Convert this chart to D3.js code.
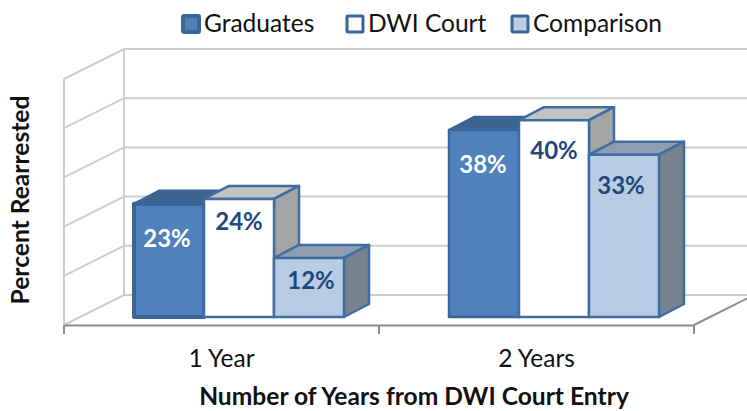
<!DOCTYPE html>
<html>
<head>
<meta charset="utf-8">
<script src="https://cdn.jsdelivr.net/npm/d3@7"></script>
<style>
  html, body { margin: 0; padding: 0; background: #fff; }
  svg { display: block; font-family: Lato, "Open Sans", sans-serif; }
</style>
</head>
<body>
<div id="chart"></div>
<script>
var categories = ["1 Year", "2 Years"];
var seriesNames = ["Graduates", "DWI Court", "Comparison"];
var graduates = [23, 38];
var dwiCourt = [24, 40];
var comparison = [12, 33];
var gridTicks = [0, 10, 20, 30, 40, 50];

var seriesValues = [graduates, dwiCourt, comparison];

// front, top and side faces of each series
var faces = [
  { front: "#4f81bd", top: "#3d6592", side: "#3d6592", stroke: "#3b6597" },
  { front: "#ffffff", top: "#c2c2c2", side: "#a5a5a5", stroke: "#3f6da3" },
  { front: "#b8cce4", top: "#8e9eb2", side: "#77838f", stroke: "#3f6da3" }
];

var width = 747, height = 411;
var left = 64, right = 694, floorY = 325;
var depthX = 60, depthY = -30;      // whole floor depth
var barDepthX = 25, barDepthY = -13; // depth of one bar
var barShiftX = 17.5, barShiftY = -8; // bars sit a little way back on the floor

// labels were placed by hand in the original: [dx, dy from bar top]
var labelNudge = [
  [[-2, 35], [0, 23], [2, 23]],
  [[-1, 35], [0, 30], [-3, 31]]
];

var x = d3.scaleBand().domain(categories).range([left, right]);
var x1 = d3.scaleBand().domain(d3.range(3)).range([0, 210]);
var y = d3.scaleLinear().domain([0, 50]).range([floorY, floorY - 246]);

var svg = d3.select("#chart").append("svg")
  .attr("width", width)
  .attr("height", height);

// back and side walls
var grid = svg.append("g")
  .attr("fill", "none")
  .attr("stroke", "#cdcdcd")
  .attr("stroke-width", 2);

gridTicks.forEach(function(t) {
  grid.append("path")
    .attr("d", d3.line()([
      [left, y(t)],
      [left + depthX, y(t) + depthY],
      [right + depthX, y(t) + depthY]
    ]));
});

grid.append("line")
  .attr("x1", left).attr("x2", left)
  .attr("y1", y(50)).attr("y2", y(0));
grid.append("line")
  .attr("x1", left + depthX).attr("x2", left + depthX)
  .attr("y1", y(50) + depthY).attr("y2", y(0) + depthY);

// floor edge on the right
svg.append("line")
  .attr("x1", right).attr("y1", floorY)
  .attr("x2", right + depthX).attr("y2", floorY + depthY)
  .attr("stroke", "#8c8c8c")
  .attr("stroke-width", 2);

// bars, left to right so the next front covers the last side
categories.forEach(function(cat, c) {
  seriesValues.forEach(function(values, s) {
    var v = values[c];
    var x0 = x(cat) + x.bandwidth() / 2 - x1.step() * 1.5 + barShiftX + x1(s);
    var x2 = x0 + x1.bandwidth();
    var yTop = y(v) + barShiftY;
    var yBase = y(0) + barShiftY;
    var f = faces[s];
    // the 1 Year graduates bar has the heavy outline in the original
    var sw = (c === 0 && s === 0) ? 4 : 2.5;
    var g = svg.append("g")
      .attr("stroke", f.stroke)
      .attr("stroke-width", sw)
      .attr("stroke-linejoin", "round");

    g.append("path")
      .attr("fill", f.top)
      .attr("stroke-width", 2.5)
      .attr("d", d3.line()([
        [x0, yTop],
        [x0 + barDepthX, yTop + barDepthY],
        [x2 + barDepthX, yTop + barDepthY],
        [x2, yTop]
      ]) + "Z");
    g.append("path")
      .attr("fill", f.side)
      .attr("stroke-width", 2.5)
      .attr("d", d3.line()([
        [x2, yTop],
        [x2 + barDepthX, yTop + barDepthY],
        [x2 + barDepthX, yBase + barDepthY],
        [x2, yBase]
      ]) + "Z");
    g.append("rect")
      .attr("fill", f.front)
      .attr("x", x0)
      .attr("y", yTop)
      .attr("width", x2 - x0)
      .attr("height", yBase - yTop);
  });
});

// data labels on top of everything
categories.forEach(function(cat, c) {
  seriesValues.forEach(function(values, s) {
    var x0 = x(cat) + x.bandwidth() / 2 - x1.step() * 1.5 + barShiftX + x1(s);
    svg.append("text")
      .attr("x", x0 + x1.bandwidth() / 2 + labelNudge[c][s][0])
      .attr("y", y(values[c]) + barShiftY + labelNudge[c][s][1])
      .attr("dy", "0.35em")
      .attr("text-anchor", "middle")
      .attr("font-size", 24)
      .attr("font-weight", 700)
      .attr("fill", s === 0 ? "#ffffff" : "#1f497d")
      .text(values[c] + "%");
  });
});

// x axis: labels from the band scale, ticks on the band edges
var axis = svg.append("g")
  .attr("transform", "translate(0," + floorY + ")")
  .call(d3.axisBottom(x).tickSize(0).tickPadding(25));
axis.select(".domain").attr("stroke", "#8c8c8c").attr("stroke-width", 2);
axis.selectAll("text")
  .attr("font-family", "Lato, sans-serif")
  .attr("font-size", 24.5)
  .attr("fill", "#111");

[left, left + x.step(), right].forEach(function(tx) {
  axis.append("line")
    .attr("x1", tx).attr("x2", tx)
    .attr("y1", 0).attr("y2", 9)
    .attr("stroke", "#8c8c8c")
    .attr("stroke-width", 2);
});

svg.append("text")
  .attr("x", 414).attr("y", 405)
  .attr("text-anchor", "middle")
  .attr("font-size", 24.6)
  .attr("font-weight", 700)
  .attr("fill", "#111")
  .text("Number of Years from DWI Court Entry");

svg.append("text")
  .attr("transform", "translate(29,200) rotate(-90)")
  .attr("text-anchor", "middle")
  .attr("font-size", 24.6)
  .attr("font-weight", 700)
  .attr("fill", "#111")
  .text("Percent Rearrested");

// legend
var legendX = [182, 346, 511];
var legend = svg.selectAll(".legend")
  .data(seriesNames)
  .enter().append("g")
  .attr("class", "legend")
  .attr("transform", function(d, i) { return "translate(" + legendX[i] + ",0)"; });

legend.append("rect")
  .attr("x", 1).attr("y", 16)
  .attr("width", 16).attr("height", 16)
  .attr("rx", 1)
  .attr("fill", function(d, i) { return faces[i].front; })
  .attr("stroke", "#3b6597")
  .attr("stroke-width", function(d, i) { return i === 0 ? 4 : 3; });

legend.append("text")
  .attr("x", 22).attr("y", 32)
  .attr("font-size", 24.5)
  .attr("fill", "#111")
  .text(function(d) { return d; });
</script>
</body>
</html>
